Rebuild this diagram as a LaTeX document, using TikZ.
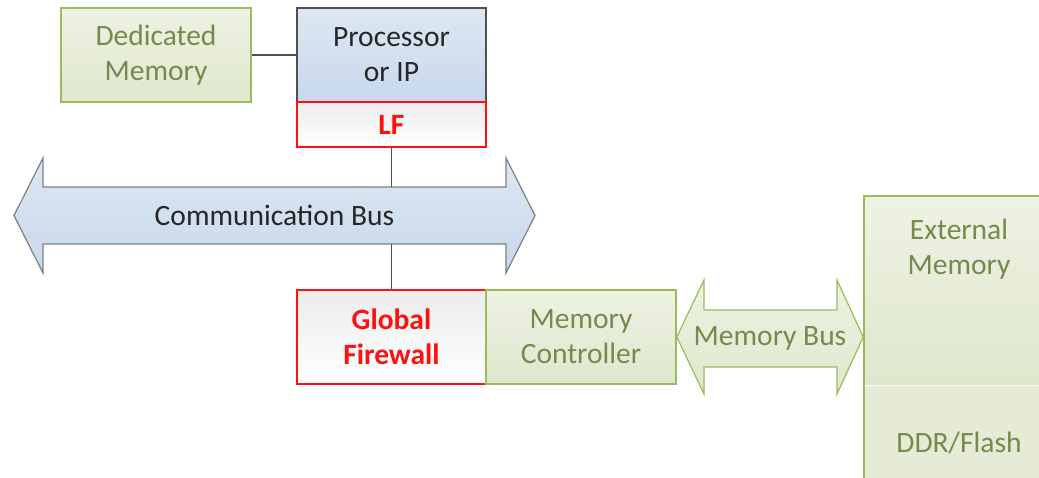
\documentclass[tikz,border=0pt]{standalone}
\usepackage{fontspec}
\setmainfont{Carlito}
\usetikzlibrary{calc}
\definecolor{blueTop}{HTML}{DDE7F2}
\definecolor{blueBot}{HTML}{C7D8EC}
\definecolor{greenTop}{HTML}{EEF2E3}
\definecolor{greenBot}{HTML}{DFE7CD}
\definecolor{greenLine}{HTML}{9BBB59}
\definecolor{greenText}{HTML}{76894F}
\definecolor{grayLine}{HTML}{505050}
\definecolor{busLine}{HTML}{7F7F7F}
\definecolor{darkText}{HTML}{262626}
\definecolor{fwTop}{HTML}{ECECEC}
\definecolor{fwRed}{HTML}{FF1010}

\tikzset{
  box/.style={rectangle, minimum width=189pt, minimum height=94pt,
    align=center, inner sep=0pt, line width=1.6pt},
  greenbox/.style={box, draw=greenLine, top color=greenTop, bottom color=greenBot,
    text=greenText},
  bluebox/.style={box, draw=grayLine, top color=blueTop, bottom color=blueBot,
    text=darkText},
  redbox/.style={box, draw=fwRed, top color=fwTop, bottom color=white,
    text=fwRed, font=\fontsize{29.5}{35}\selectfont\bfseries},
  conn/.style={draw=grayLine, line width=1.6pt},
  bustext/.style={rectangle, inner sep=0pt, align=center},
}

\begin{document}
\begin{tikzpicture}[x=1pt, y=-1pt, font=\fontsize{29.5}{35}\selectfont]
\useasboundingbox (0,0) rectangle (1039,477);
\clip (0,0) rectangle (1039,477);

% top row: dedicated memory, processor and its local firewall
\node[greenbox, minimum width=190pt] (ded) at (156,55) {Dedicated\\Memory};
\node[bluebox] (proc) at (391.5,55) {Processor\\or IP};
\node[redbox, minimum height=45pt] (lf) at (391.5,124.5) {LF};

% communication bus (double arrow)
\path[draw=busLine, line width=1.2pt, top color=blueTop, bottom color=blueBot]
  (14,215.5) -- (43,158) -- (43,187) -- (506,187) -- (506,158) -- (535,215.5)
  -- (506,273) -- (506,244) -- (43,244) -- (43,273) -- cycle;
\node[bustext, minimum width=463pt, minimum height=57pt, text=darkText]
  (cbus) at (274.5,215.5) {Communication Bus};

% global firewall and memory controller
\node[redbox] (gf) at (391.5,337) {Global\\Firewall};
\node[greenbox, minimum width=190pt] (mc) at (581,337) {Memory\\Controller};

% external memory, running off the right and bottom edges:
% shaded upper part, flat lower part, faint seam, then the outline
\shade[top color=greenTop, bottom color=greenBot] (864,196) rectangle (1054,385);
\fill[greenBot!60!greenTop] (864,385) rectangle (1054,506);
\draw[white, line width=0.8pt, opacity=0.8] (864,385) -- (1054,385);
\node[box, draw=greenLine, minimum width=190pt, minimum height=310pt] (ext)
  at (959,351) {};
\node[text=greenText, align=center, anchor=north] (extlabel) at ($(ext.north)+(0,20)$)
  {External\\Memory};
\node[text=greenText, anchor=center] (ddrlabel) at (959,443) {DDR/Flash};

% memory bus (double arrow)
\path[draw=greenLine, line width=1.2pt, top color=greenTop, bottom color=greenBot]
  (mc.east) -- (704,280) -- (704,310) -- (837,310) -- (837,280) -- (ext.west |- mc.east)
  -- (837,394) -- (837,367) -- (704,367) -- (704,394) -- cycle;
\node[bustext, minimum width=133pt, minimum height=57pt, text=greenText]
  (mbus) at (770,338.5) {Memory Bus};

% connectors
\draw[conn] (ded.east) -- (proc.west);
\draw[conn] (lf.south) -- (lf.south |- cbus.north);
\draw[conn] (gf.north) -- (gf.north |- cbus.south);
\end{tikzpicture}
\end{document}
